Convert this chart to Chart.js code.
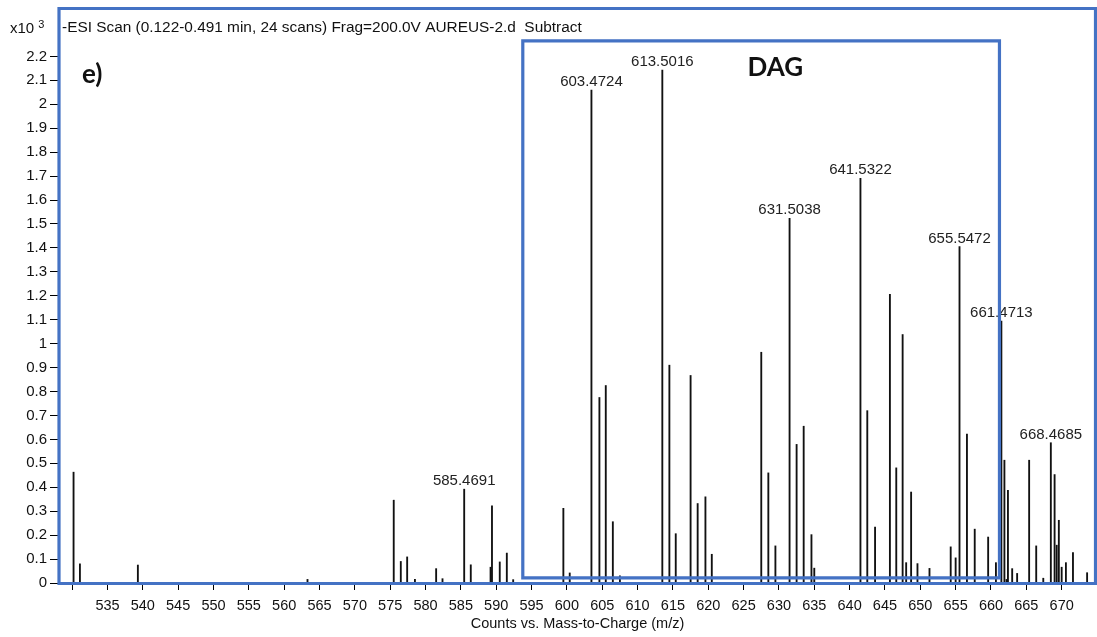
<!DOCTYPE html>
<html><head><meta charset="utf-8">
<script src="https://cdn.jsdelivr.net/npm/chart.js@4.4.1/dist/chart.umd.min.js"></script>
<style>html,body{margin:0;padding:0;background:#fff;overflow:hidden}canvas{display:block}</style>
</head><body>
<canvas id="c" width="1097" height="637"></canvas>
<script>
// ---- data (m/z, intensity x10^3) ----
const masses = [530.2, 531.1, 539.3, 563.3, 575.5, 576.5, 577.4, 578.5, 581.5, 582.4,
  585.4691, 586.4, 589.2, 589.4, 590.5, 591.5, 592.4, 599.5, 600.4,
  603.4724, 604.6, 605.5, 606.5, 607.5, 613.5016, 614.5, 615.4, 617.5, 618.5, 619.6, 620.5,
  627.5, 628.5, 629.5, 631.5038, 632.5, 633.5, 634.6, 635.0,
  641.5322, 642.5, 643.6, 645.7, 646.6, 647.5, 648.0, 648.7, 649.6, 651.3,
  654.3, 655.0, 655.5472, 656.6, 657.7, 659.6, 660.7,
  661.4713, 661.9, 662.2, 662.4, 663.0, 663.7, 665.4, 666.4, 667.4,
  668.4685, 669.0, 669.3, 669.6, 670.0, 670.6, 671.6, 673.6];
const intensities = [0.463, 0.08, 0.075, 0.015, 0.346, 0.09, 0.109, 0.015, 0.06, 0.018,
  0.392, 0.076, 0.066, 0.322, 0.088, 0.125, 0.014, 0.312, 0.042,
  2.059, 0.775, 0.825, 0.256, 0.03, 2.143, 0.91, 0.206, 0.867, 0.332, 0.36, 0.12,
  0.964, 0.46, 0.155, 1.523, 0.579, 0.655, 0.202, 0.062,
  1.691, 0.72, 0.234, 1.206, 0.481, 1.038, 0.085, 0.38, 0.081, 0.061,
  0.151, 0.105, 1.405, 0.622, 0.225, 0.192, 0.085,
  1.094, 0.513, 0.015, 0.387, 0.06, 0.04, 0.513, 0.155, 0.02,
  0.586, 0.453, 0.158, 0.262, 0.066, 0.085, 0.127, 0.043];
const labeledMasses = [585.4691, 603.4724, 613.5016, 631.5038, 641.5322, 655.5472, 661.4713, 668.4685];
const xTickValues = [530, 535, 540, 545, 550, 555, 560, 565, 570, 575, 580, 585, 590, 595, 600,
  605, 610, 615, 620, 625, 630, 635, 640, 645, 650, 655, 660, 665, 670];
const yTickValues = [0, 0.1, 0.2, 0.3, 0.4, 0.5, 0.6, 0.7, 0.8, 0.9, 1, 1.1, 1.2, 1.3, 1.4, 1.5,
  1.6, 1.7, 1.8, 1.9, 2, 2.1, 2.2];
const xUnlabeledTicks = [530];
const titleText = "-ESI Scan (0.122-0.491 min, 24 scans) Frag=200.0V AUREUS-2.d  Subtract";
const xAxisTitle = "Counts vs. Mass-to-Charge (m/z)";
const yScaleText = "x10";
const yScaleExp = "3";
const dagLabel = "DAG";
const dagLabelAt = 629.5;
const panelLabel = "e)";
const dagRange = {xMin: 593.76, xMax: 661.2, yMin: 0.021, yMax: 2.265};

const FONT = "'Liberation Sans', Arial, sans-serif";
const BLUE = '#4472C4';

const overlay = {
  id: 'overlay',
  afterDatasetsDraw(chart) {
    const {ctx, scales: {x, y}, chartArea} = chart;
    ctx.save();
    // peak labels
    ctx.fillStyle = '#222';
    ctx.font = '15px ' + FONT;
    ctx.textAlign = 'center';
    ctx.textBaseline = 'alphabetic';
    labeledMasses.forEach(m => {
      const i = masses.indexOf(m);
      const px = x.getPixelForValue(m);
      const py = y.getPixelForValue(intensities[i]);
      ctx.fillText(m.toFixed(4), px, py - 4);
    });
    // header texts
    ctx.textAlign = 'left';
    ctx.fillStyle = '#111';
    ctx.font = '15px ' + FONT;
    ctx.textBaseline = 'middle';
    ctx.fillText(yScaleText, 10, 29);
    const w = ctx.measureText(yScaleText + ' ').width;
    ctx.font = '11px ' + FONT;
    ctx.fillText(yScaleExp, 10 + w, 25);
    ctx.font = '15.4px ' + FONT;
    ctx.fillText(titleText, chartArea.left + 4, 28);
    // bold labels
    ctx.font = "bold 26px Lato, 'Open Sans', sans-serif";
    ctx.fillText(panelLabel, chartArea.left + 24, 75);
    ctx.textAlign = 'center';
    ctx.fillText(dagLabel, x.getPixelForValue(dagLabelAt), 68);
    // blue boxes
    ctx.strokeStyle = BLUE;
    ctx.lineWidth = 3.2;
    ctx.beginPath();
    ctx.rect(chartArea.left + 1, 8.5, 1095.5 - chartArea.left - 1, chartArea.bottom + 0.5 - 8.5);
    ctx.stroke();
    const l = x.getPixelForValue(dagRange.xMin), r = x.getPixelForValue(dagRange.xMax);
    const t = y.getPixelForValue(dagRange.yMax), b = y.getPixelForValue(dagRange.yMin);
    ctx.beginPath();
    ctx.rect(l, t, r - l, b - t);
    ctx.stroke();
    ctx.restore();
  }
};

new Chart(document.getElementById('c').getContext('2d'), {
  type: 'bar',
  data: {
    datasets: [{
      data: masses.map((m, i) => ({x: m, y: intensities[i]})),
      backgroundColor: '#111',
      borderWidth: 0,
      barThickness: 1.2,
      grouped: false
    }]
  },
  options: {
    responsive: false,
    animation: false,
    devicePixelRatio: 1,
    layout: {padding: {top: 43, left: 0, right: 0, bottom: 0}},
    plugins: {legend: {display: false}, tooltip: {enabled: false}, title: {display: false}},
    scales: {
      x: {
        type: 'linear', min: 528, max: 675, offset: false,
        afterBuildTicks: s => { s.ticks = xTickValues.map(v => ({value: v})); },
        afterFit: s => { s.height = 54; },
        ticks: {
          autoSkip: false, maxRotation: 0, minRotation: 0, color: '#111', padding: 7,
          font: {family: FONT, size: 14.5},
          callback: v => xUnlabeledTicks.includes(v) ? '' : String(v)
        },
        grid: {offset: false, drawOnChartArea: false, drawTicks: true, tickLength: 7, color: '#000'},
        border: {display: true, color: '#000', width: 1},
        title: {display: true, text: xAxisTitle, color: '#111', font: {family: FONT, size: 14.5},
                padding: {top: 0, bottom: 4}}
      },
      y: {
        min: 0, max: 2.256,
        afterBuildTicks: s => { s.ticks = yTickValues.map(v => ({value: v})); },
        afterFit: s => { s.width = 58; },
        ticks: {
          color: '#111', padding: 3, font: {family: FONT, size: 15},
          callback: v => String(Math.round(v * 10) / 10)
        },
        grid: {drawOnChartArea: false, drawTicks: true, tickLength: 8, color: '#000'},
        border: {display: true, color: '#000', width: 1}
      }
    }
  },
  plugins: [overlay]
});
</script>
</body></html>
